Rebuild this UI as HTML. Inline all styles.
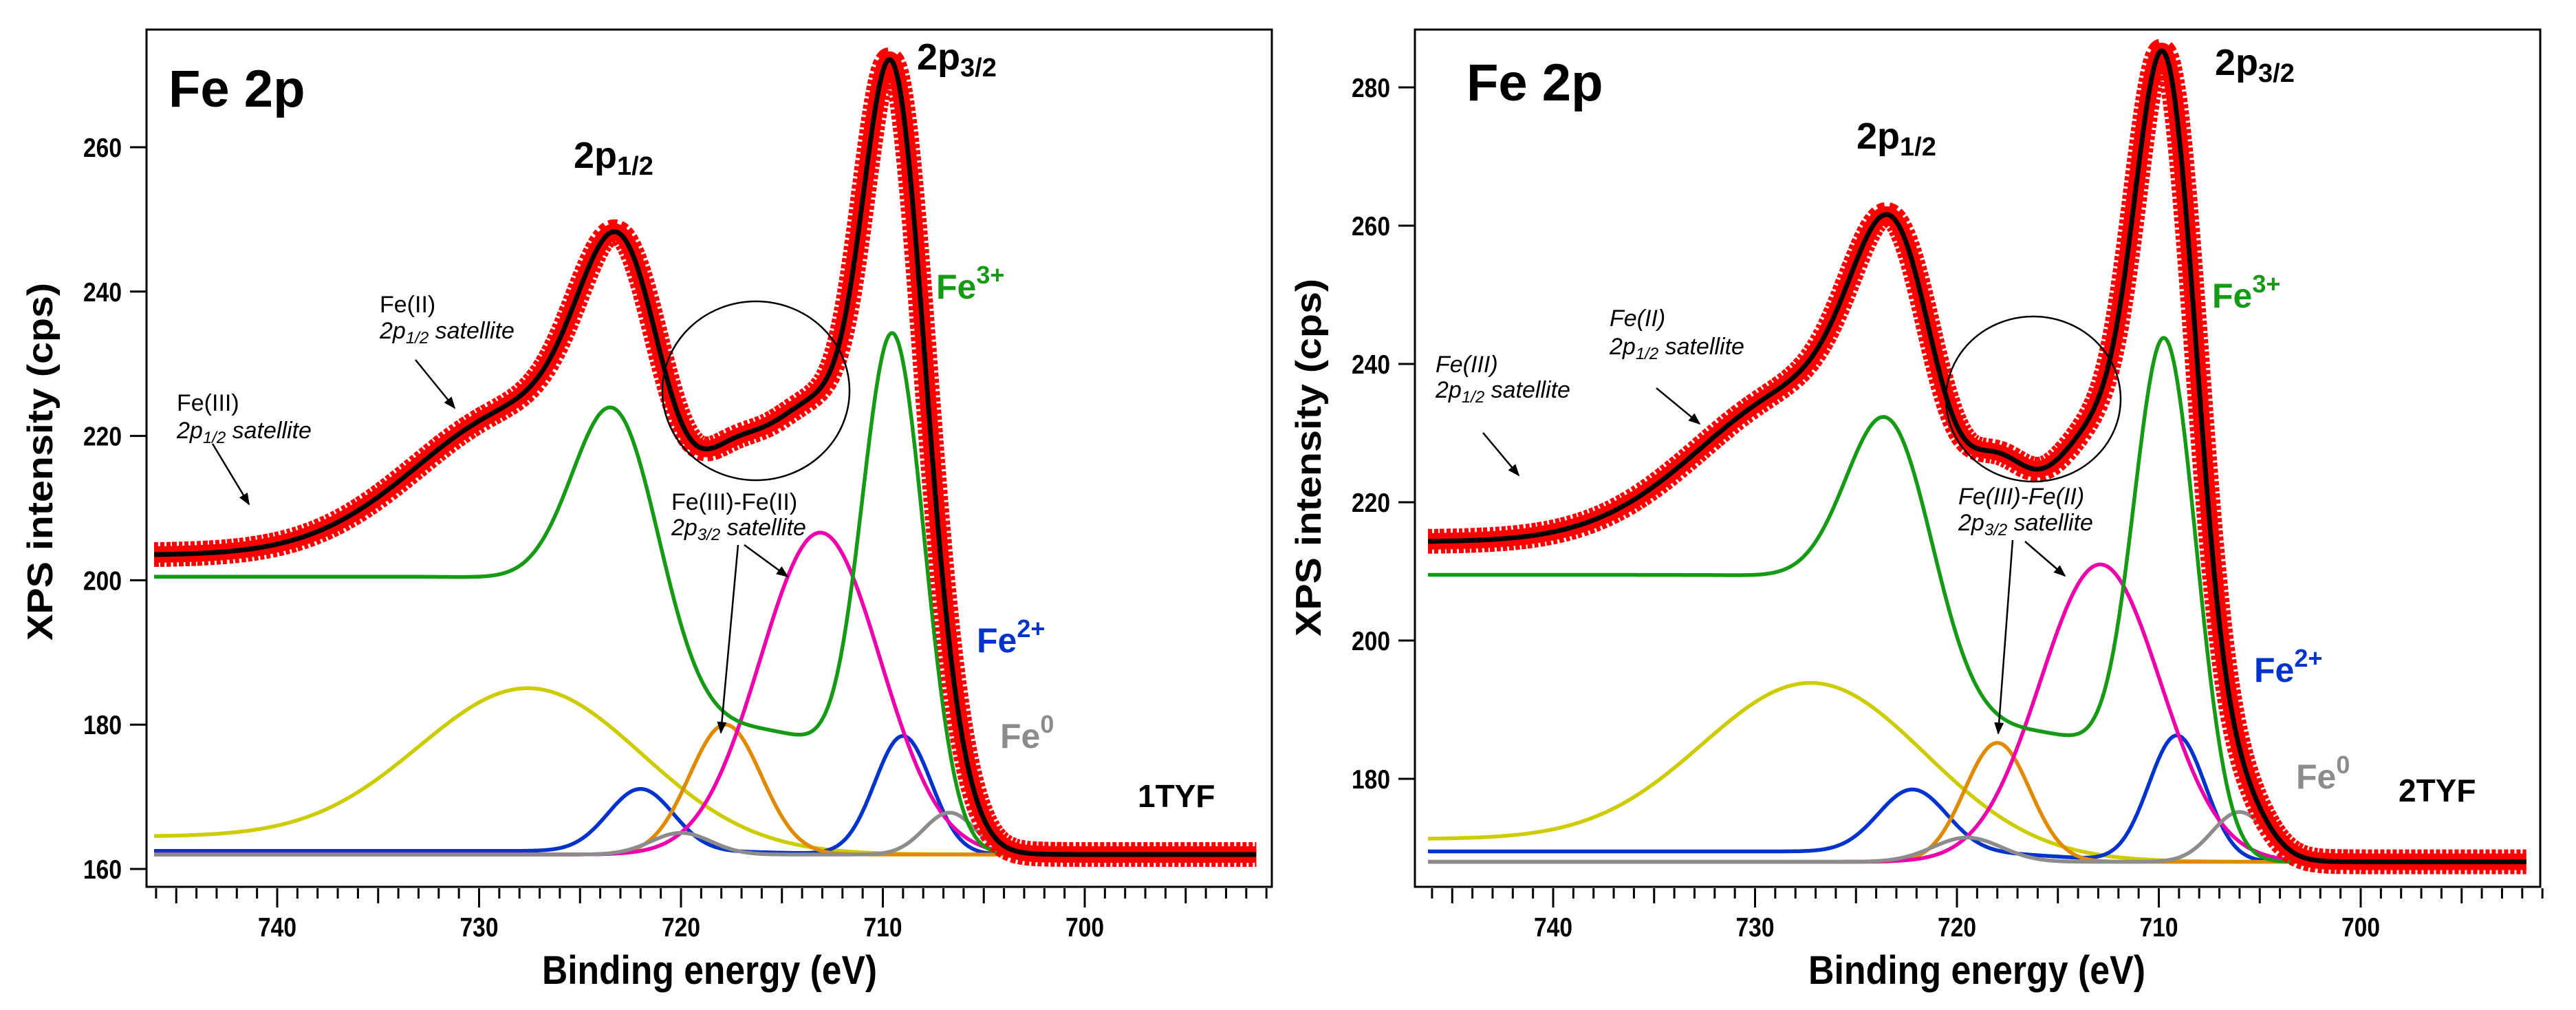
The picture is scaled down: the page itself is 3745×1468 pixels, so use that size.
<!DOCTYPE html>
<html><head><meta charset="utf-8"><style>
html,body{margin:0;padding:0;background:#fff;}
svg{display:block;}
text{font-family:"Liberation Sans",Arial,sans-serif;}
</style></head>
<body>
<svg id="chart" width="3745" height="1468" viewBox="0 0 3745 1468" xmlns="http://www.w3.org/2000/svg">
<g id="left"></g>
<g id="right"></g>
</svg>
<script>
// ---- axis data ----
const xTicksMajor = [740, 730, 720, 710, 700];
const leftYTicks = [160, 180, 200, 220, 240, 260];
const rightYTicks = [180, 200, 220, 240, 260, 280];

// ---- left panel (1TYF) components: peaks [center eV, amplitude cps, FWHM eV]; steps [center, height, width] ----
const L_greenPeaks = [[709.5, 70.9, 3.7], [723.0, 33.0, 5.0]];
const L_greenSteps = [[712.0, 17.5, 1.0], [723.0, 21.0, 1.4]];
const L_yellowPeaks = [[727.3, 21.7, 13.0]];
const L_yellowSteps = [[727.0, 2.5, 3.0]];
const L_bluePeaks = [[722.0, 8.6, 3.8], [709.0, 16.4, 3.3]];
const L_blueSteps = [[715.0, 0.5, 2.0]];
const L_grayPeaks = [[720.0, 3.0, 3.5], [706.7, 5.8, 3.0]];
const L_orangePeaks = [[717.8, 18.0, 4.2]];
const L_magentaPeaks = [[713.1, 44.6, 7.0]];
const L_base = [162];

// ---- right panel (2TYF) components ----
const R_greenPeaks = [[709.7, 74.0, 3.7], [723.1, 33.0, 5.0]];
const R_greenSteps = [[712.0, 19.0, 1.0], [723.1, 22.5, 1.4]];
const R_yellowPeaks = [[726.9, 24.2, 13.0]];
const R_yellowSteps = [[727.0, 3.3, 3.0]];
const R_bluePeaks = [[722.2, 9.0, 4.0], [709.1, 18.2, 3.3]];
const R_blueSteps = [[715.0, 1.5, 2.0]];
const R_grayPeaks = [[719.5, 3.5, 4.0], [706.0, 7.2, 3.2]];
const R_orangePeaks = [[718.0, 17.2, 3.8]];
const R_magentaPeaks = [[712.9, 43.0, 7.0]];
const R_base = [168];

const NS = "http://www.w3.org/2000/svg";
function mk(parent, tag, attrs) {
  const e = document.createElementNS(NS, tag);
  for (const k in attrs) e.setAttribute(k, attrs[k]);
  parent.appendChild(e);
  return e;
}
function comp(E, peaks, steps, base) {
  let v = base;
  for (const p of peaks) v += p[1] * Math.exp(-4 * Math.LN2 * (E - p[0]) * (E - p[0]) / (p[2] * p[2]));
  for (const s of steps) v += s[1] / (1 + Math.exp(-(E - s[0]) / s[2]));
  return v;
}

function drawPanel(g, cfg) {
  const X = E => cfg.x740 + (740 - E) * cfg.pxEV;
  const Y = v => cfg.yRef + (cfg.vRef - v) * cfg.pxC;
  const base = cfg.base[0];
  const series = [
    {name: 'yellow-satellite-curve', color: '#cccc00', p: cfg.yellow, s: cfg.yellowS},
    {name: 'fe2-curve', color: '#0033cc', p: cfg.blue, s: cfg.blueS},
    {name: 'fe3-fe2-satellite-curve', color: '#e08a00', p: cfg.orange, s: []},
    {name: 'magenta-satellite-curve', color: '#ee00aa', p: cfg.magenta, s: []},
    {name: 'fe0-curve', color: '#8c8c8c', p: cfg.gray, s: []},
    {name: 'fe3-curve', color: '#159a15', p: cfg.green, s: cfg.greenS}
  ];
  const Es = [];
  for (let E = cfg.eMax; E >= cfg.eMin; E -= 0.05) Es.push(E);
  const pathOf = f => Es.map((E, i) => (i ? 'L' : 'M') + X(E).toFixed(1) + ',' + Y(f(E)).toFixed(1)).join('');
  for (const s of series) {
    const el = mk(g, 'path', {d: pathOf(E => comp(E, s.p, s.s, base)), fill: 'none', stroke: s.color, 'stroke-width': 5.5});
    
    
  }
  const env = E => {
    let v = comp(E, cfg.green, cfg.greenS, base);
    v += comp(E, cfg.yellow, cfg.yellowS, base) - base;
    v += comp(E, cfg.blue, cfg.blueS, base) - base;
    v += comp(E, cfg.gray, [], base) - base;
    v += comp(E, cfg.orange, [], base) - base;
    v += comp(E, cfg.magenta, [], base) - base;
    return v;
  };
  const data = mk(g, 'path', {d: pathOf(env), fill: 'none', stroke: '#ff0000', 'stroke-width': 36, 'stroke-linejoin': 'round', 'stroke-dasharray': '6 3'});
  
  
  const data2 = mk(g, 'path', {d: pathOf(env), fill: 'none', stroke: '#ff0000', 'stroke-width': 24, 'stroke-linejoin': 'round'});
  
  
  const fit = mk(g, 'path', {d: pathOf(env), fill: 'none', stroke: '#000', 'stroke-width': 7});
  
  

  const fr = mk(g, 'rect', {x: cfg.fx0, y: 43, width: cfg.fx1 - cfg.fx0, height: cfg.fy1 - 43, fill: 'none', stroke: '#000', 'stroke-width': 3});
  
  
  for (let E = 746; E >= 691; E--) {
    const len = (E % 10 === 0) ? 28 : (E % 5 === 0 ? 22 : 15);
    const t = mk(g, 'line', {x1: X(E), x2: X(E), y1: cfg.fy1 + 2, y2: cfg.fy1 + 2 + len, stroke: '#000', 'stroke-width': 3});
    
    
  }
  for (const E of xTicksMajor) {
    const t = mk(g, 'text', {x: X(E), y: cfg.fy1 + 72, 'text-anchor': 'middle', 'font-size': 39, 'font-weight': 'bold', textLength: 56, lengthAdjust: 'spacingAndGlyphs'});
    t.textContent = E;
    
    
  }
  for (const v of cfg.yTicks) {
    const t = mk(g, 'line', {x1: cfg.fx0 - 24, x2: cfg.fx0, y1: Y(v), y2: Y(v), stroke: '#000', 'stroke-width': 3});
    
    
    const l = mk(g, 'text', {x: cfg.fx0 - 36, y: Y(v) + 14, 'text-anchor': 'end', 'font-size': 39, 'font-weight': 'bold', textLength: 56, lengthAdjust: 'spacingAndGlyphs'});
    l.textContent = v;
    
    
  }
}

const left = document.getElementById('left');
const right = document.getElementById('right');
drawPanel(left, {x740: 403, pxEV: 29.35, yRef: 214, vRef: 260, pxC: 10.49, fx0: 213, fx1: 1849, fy1: 1289,
  eMax: 746.1, eMin: 691.5, yTicks: leftYTicks, base: L_base,
  green: L_greenPeaks, greenS: L_greenSteps, yellow: L_yellowPeaks, yellowS: L_yellowSteps,
  blue: L_bluePeaks, blueS: L_blueSteps, gray: L_grayPeaks, orange: L_orangePeaks, magenta: L_magentaPeaks});
drawPanel(right, {x740: 2258, pxEV: 29.35, yRef: 127, vRef: 280, pxC: 10.05, fx0: 2057, fx1: 3693, fy1: 1289,
  eMax: 746.2, eMin: 691.8, yTicks: rightYTicks, base: R_base,
  green: R_greenPeaks, greenS: R_greenSteps, yellow: R_yellowPeaks, yellowS: R_yellowSteps,
  blue: R_bluePeaks, blueS: R_blueSteps, gray: R_grayPeaks, orange: R_orangePeaks, magenta: R_magentaPeaks});
</script>
<script>
const svg = document.getElementById('chart');
const ann = document.createElementNS("http://www.w3.org/2000/svg", 'g');
svg.appendChild(ann);


ann.innerHTML = `
<defs><marker id="ah" viewBox="0 0 10 10" refX="9" refY="5" markerWidth="7" markerHeight="7" orient="auto"><path d="M0,1 L10,5 L0,9 z" fill="#000"/></marker></defs>
<g font-weight="bold">
 <text x="245" y="155" font-size="76">Fe 2p</text>
 <text x="1333" y="101" font-size="54">2p<tspan font-size="38" dy="10">3/2</tspan></text>
 <text x="834" y="244" font-size="54">2p<tspan font-size="38" dy="10">1/2</tspan></text>
 <text x="1361" y="434" font-size="50" fill="#159a15">Fe<tspan font-size="36" dy="-22">3+</tspan></text>
 <text x="1420" y="948" font-size="50" fill="#0033cc">Fe<tspan font-size="36" dy="-22">2+</tspan></text>
 <text x="1454" y="1087" font-size="50" fill="#8c8c8c">Fe<tspan font-size="36" dy="-22">0</tspan></text>
 <text x="1654" y="1173" font-size="46">1TYF</text>
 <text x="788" y="1430" font-size="58" textLength="487" lengthAdjust="spacingAndGlyphs">Binding energy (eV)</text>
 <text transform="translate(76,671) rotate(-90)" text-anchor="middle" font-size="52" textLength="520" lengthAdjust="spacingAndGlyphs">XPS intensity (cps)</text>
</g>
<g font-size="34">
 <text x="257" y="597">Fe(III)</text>
 <text x="257" y="637" font-style="italic">2p<tspan font-size="24" dy="7">1/2</tspan><tspan dy="-7"> satellite</tspan></text>
 <line x1="309" y1="645" x2="362" y2="733" stroke="#000" stroke-width="2.5" marker-end="url(#ah)"/>
 <text x="552" y="454">Fe(II)</text>
 <text x="552" y="492" font-style="italic">2p<tspan font-size="24" dy="7">1/2</tspan><tspan dy="-7"> satellite</tspan></text>
 <line x1="604" y1="523" x2="661" y2="593" stroke="#000" stroke-width="2.5" marker-end="url(#ah)"/>
 <text x="976" y="741">Fe(III)-Fe(II)</text>
 <text x="976" y="778" font-style="italic">2p<tspan font-size="24" dy="7">3/2</tspan><tspan dy="-7"> satellite</tspan></text>
 <line x1="1073" y1="792" x2="1048" y2="1065" stroke="#000" stroke-width="2.5" marker-end="url(#ah)"/>
 <line x1="1082" y1="792" x2="1145" y2="838" stroke="#000" stroke-width="2.5" marker-end="url(#ah)"/>
 <ellipse cx="1099" cy="568" rx="136" ry="130" fill="none" stroke="#000" stroke-width="2.5"/>
</g>
<g font-weight="bold">
 <text x="2132" y="146" font-size="76">Fe 2p</text>
 <text x="3220" y="109" font-size="54">2p<tspan font-size="38" dy="10">3/2</tspan></text>
 <text x="2699" y="216" font-size="54">2p<tspan font-size="38" dy="10">1/2</tspan></text>
 <text x="3216" y="447" font-size="50" fill="#159a15">Fe<tspan font-size="36" dy="-22">3+</tspan></text>
 <text x="3277" y="991" font-size="50" fill="#0033cc">Fe<tspan font-size="36" dy="-22">2+</tspan></text>
 <text x="3338" y="1146" font-size="50" fill="#8c8c8c">Fe<tspan font-size="36" dy="-22">0</tspan></text>
 <text x="3487" y="1165" font-size="46">2TYF</text>
 <text x="2629" y="1430" font-size="58" textLength="490" lengthAdjust="spacingAndGlyphs">Binding energy (eV)</text>
 <text transform="translate(1920,665) rotate(-90)" text-anchor="middle" font-size="52" textLength="520" lengthAdjust="spacingAndGlyphs">XPS intensity (cps)</text>
</g>
<g font-size="34" font-style="italic">
 <text x="2087" y="541">Fe(III)</text>
 <text x="2087" y="578">2p<tspan font-size="24" dy="7">1/2</tspan><tspan dy="-7"> satellite</tspan></text>
 <line x1="2156" y1="629" x2="2208" y2="691" stroke="#000" stroke-width="2.5" marker-end="url(#ah)"/>
 <text x="2340" y="474">Fe(II)</text>
 <text x="2340" y="515">2p<tspan font-size="24" dy="7">1/2</tspan><tspan dy="-7"> satellite</tspan></text>
 <line x1="2408" y1="564" x2="2471" y2="616" stroke="#000" stroke-width="2.5" marker-end="url(#ah)"/>
 <text x="2847" y="733">Fe(III)-Fe(II)</text>
 <text x="2847" y="771">2p<tspan font-size="24" dy="7">3/2</tspan><tspan dy="-7"> satellite</tspan></text>
 <line x1="2926" y1="785" x2="2905" y2="1066" stroke="#000" stroke-width="2.5" marker-end="url(#ah)"/>
 <line x1="2944" y1="787" x2="3002" y2="837" stroke="#000" stroke-width="2.5" marker-end="url(#ah)"/>
 <ellipse cx="2956" cy="580" rx="127" ry="120" fill="none" stroke="#000" stroke-width="2.5"/>
</g>`;
</script>
</body></html>
